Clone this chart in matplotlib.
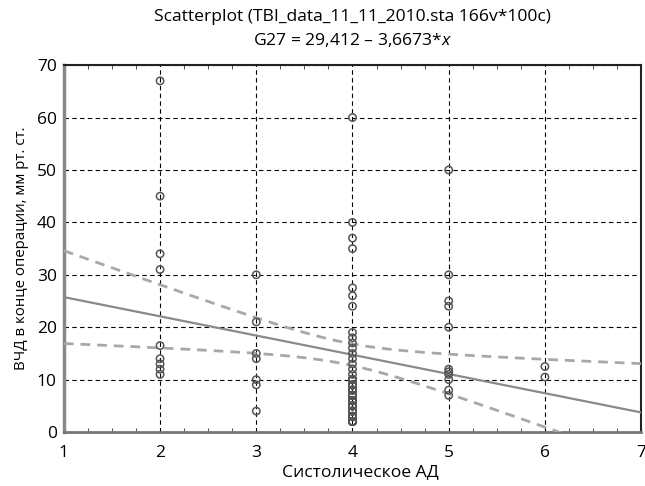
import numpy as np
import matplotlib
matplotlib.use("Agg")
import matplotlib.pyplot as plt
from matplotlib.ticker import MultipleLocator

plt.rcParams['font.family'] = ['Open Sans', 'DejaVu Sans']
plt.rcParams['mathtext.fontset'] = 'custom'
plt.rcParams['mathtext.it'] = 'Open Sans:italic'
plt.rcParams['mathtext.rm'] = 'Open Sans'

# ---- data ----
x2_vals = [67, 45, 34, 31, 16.5, 14, 13, 12, 11]
x3_vals = [30, 21, 15, 14, 10, 9, 4]
x4_upper_vals = [60, 40, 37, 35, 27.5, 26, 24]
# dense, heavily overlapping column at x = 4 (values and estimated multiplicity)
x4_dense_vals = [2, 3, 4, 5, 6, 7, 8, 9, 10, 11, 12, 13, 14, 15, 16, 17, 18, 19]
x4_dense_counts = [9, 9, 9, 9, 9, 9, 9, 9, 9, 1, 1, 1, 1, 1, 1, 1, 1, 1]
x5_vals = [50, 30, 25, 24, 20, 12, 11.5, 11, 10, 8, 7]
x6_vals = [12.5, 10.5]

intercept = 29.412
slope = -3.6673
t_crit = 1.979
title_line1 = "Scatterplot (TBI_data_11_11_2010.sta 166v*100c)"
title_line2 = "G27 = 29,412 \u2013 3,6673*$x$"
xlabel = "Систолическое АД"
ylabel = "ВЧД в конце операции, мм рт. ст."
xticks = [1, 2, 3, 4, 5, 6, 7]
yticks = [0, 10, 20, 30, 40, 50, 60, 70]

x4_vals = x4_upper_vals + list(np.repeat(x4_dense_vals, x4_dense_counts))
groups = {2: x2_vals, 3: x3_vals, 4: x4_vals, 5: x5_vals, 6: x6_vals}
xs = np.concatenate([[k] * len(v) for k, v in groups.items()]).astype(float)
ys = np.concatenate([np.asarray(v, float) for v in groups.values()])

fig = plt.figure(figsize=(6.45, 4.86), dpi=100)
ax = fig.add_axes([0.099, 0.111, 0.895, 0.755])

# regression line and 95% confidence bands
xx = np.linspace(1, 7, 300)
yy = intercept + slope * xx
n = len(xs)
res = ys - (intercept + slope * xs)
s = np.sqrt(np.sum(res ** 2) / (n - 2))
xm = xs.mean()
sxx = np.sum((xs - xm) ** 2)
hw = t_crit * s * np.sqrt(1.0 / n + (xx - xm) ** 2 / sxx)

ax.plot(xx, yy, color='#8a8a8a', lw=1.6, zorder=3)
ax.plot(xx, yy + hw, color='#a8a8a8', lw=2.0, ls=(0, (3.5, 2.5)), zorder=3)
ax.plot(xx, yy - hw, color='#a8a8a8', lw=2.0, ls=(0, (3.5, 2.5)), zorder=3)

ax.scatter(xs, ys, s=28, facecolors='none', edgecolors='#555555', linewidths=1.1, zorder=4)

ax.set_xlim(1, 7)
ax.set_ylim(0, 70)
ax.set_xticks(xticks)
ax.set_yticks(yticks)
ax.xaxis.set_minor_locator(MultipleLocator(0.25))
ax.tick_params(axis='both', which='both', direction='in', top=True, right=False)
ax.tick_params(axis='x', labelsize=12.5, pad=9)
ax.tick_params(axis='y', labelsize=12.5, pad=5)
ax.tick_params(which='major', length=0)
ax.tick_params(which='minor', length=3, color='#333333')
ax.grid(True, which='major', color='black', ls=(0, (4, 3)), lw=0.8)

for sp in ax.spines.values():
    sp.set_linewidth(1.5)
    sp.set_color('#222222')
ax.spines['left'].set_color('#888888')
ax.spines['left'].set_linewidth(2.5)
ax.spines['bottom'].set_color('#777777')
ax.spines['bottom'].set_linewidth(2.0)

axc = 0.099 + 0.895 / 2
fig.text(axc, 1 - 17 / 486, title_line1, ha='center', va='center', fontsize=12.6)
fig.text(axc, 1 - 40 / 486, title_line2, ha='center', va='center', fontsize=12.6)
ax.set_xlabel(xlabel, fontsize=12.6, labelpad=2)
ax.xaxis.set_label_coords(0.513, -0.088)
ax.set_ylabel(ylabel, fontsize=10.8, labelpad=6)

fig.savefig("out.png", dpi=100)
